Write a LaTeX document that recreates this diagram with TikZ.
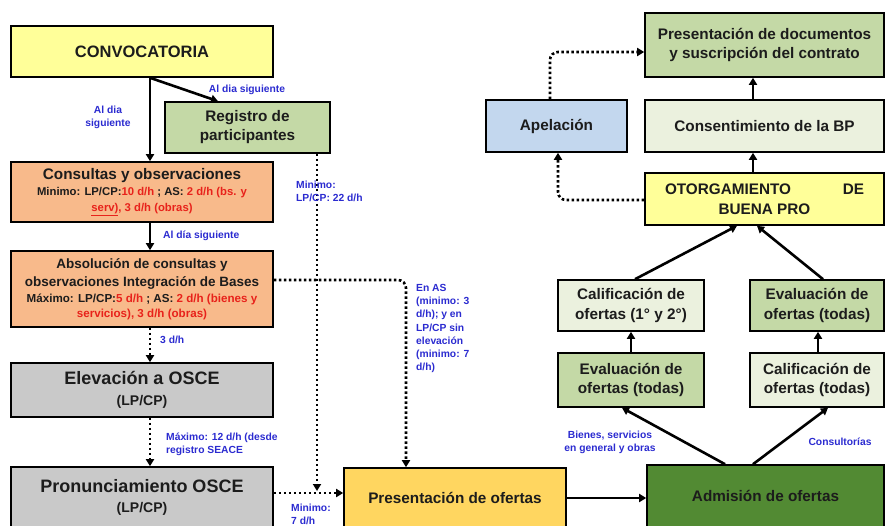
\documentclass[tikz,border=0pt]{standalone}
\usepackage{fontspec}
\setmainfont{Liberation Sans}
\usetikzlibrary{arrows.meta}
\definecolor{cyellow}{HTML}{FFFF99}
\definecolor{cgreen}{HTML}{C4D9A6}
\definecolor{clgreen}{HTML}{EBF1DE}
\definecolor{corange}{HTML}{F8BA8B}
\definecolor{cgray}{HTML}{C9C9C9}
\definecolor{cgold}{HTML}{FFD660}
\definecolor{cdgreen}{HTML}{528A33}
\definecolor{cblue}{HTML}{C3D7EE}
\definecolor{lblue}{HTML}{2B2BD0}
\definecolor{cred}{HTML}{E8221B}
\definecolor{txt}{HTML}{1C1C1C}
\begin{document}
\begin{tikzpicture}[x=1pt,y=-1pt,
  box/.style={draw=black, line width=1.6pt, inner sep=0pt, align=center, text=txt},
  arr/.style={line width=2.6pt, -{Triangle[length=7pt,width=8pt]}},
  dotarr/.style={line width=2.6pt, dash pattern=on 2.6pt off 2.4pt, -{Triangle[length=7pt,width=8pt]}},
  lbl/.style={text=lblue, font=\bfseries\fontsize{10.3}{13}\selectfont, inner sep=0pt},
  rbox/.style={box, font=\bfseries\fontsize{15.3}{19.5}\selectfont},
]
\useasboundingbox (0,0) rectangle (886,525);

% left column
\node[box, fill=cyellow, minimum width=262pt, minimum height=51pt, font=\bfseries\fontsize{16.5}{18}\selectfont] (conv) at (142,51.5) {CONVOCATORIA};
\node[box, fill=cgreen, minimum width=165pt, minimum height=51pt, font=\bfseries\fontsize{15.3}{19}\selectfont] (reg) at (247.5,127.5) {Registro de\\participantes};
\node[box, fill=corange, minimum width=262pt, minimum height=60pt, font=\bfseries\fontsize{11.3}{16}\selectfont] (cons) at (142,192)
  {{\fontsize{15.3}{17}\selectfont Consultas y observaciones}\\
   Minimo: LP/CP:\textcolor{cred}{10 d/h} ; AS: \textcolor{cred}{2 d/h (bs. y}\\
   \textcolor{cred}{\underline{serv)}, 3 d/h (obras)}};
\node[box, fill=corange, minimum width=262pt, minimum height=76pt, font=\bfseries\fontsize{11.6}{15.5}\selectfont] (abs) at (142,289)
  {{\fontsize{13.5}{18}\selectfont Absolución de consultas y}\\[3pt]
   {\fontsize{13.5}{18}\selectfont observaciones Integración de Bases}\\
   Máximo: LP/CP:\textcolor{cred}{5 d/h} ; AS: \textcolor{cred}{2 d/h (bienes y}\\
   \textcolor{cred}{servicios), 3 d/h (obras)}};
\node[box, fill=cgray, minimum width=262pt, minimum height=54pt, font=\bfseries\fontsize{14}{21}\selectfont] (elev) at (142,390)
  {{\fontsize{18}{20}\selectfont Elevación a OSCE}\\(LP/CP)};
\node[box, fill=cgray, minimum width=262pt, minimum height=61pt, font=\bfseries\fontsize{14}{20}\selectfont] (pron) at (142,497.5)
  {{\fontsize{18}{20}\selectfont Pronunciamiento OSCE}\\(LP/CP)};

% bottom middle
\node[box, fill=cgold, minimum width=222pt, minimum height=60pt, font=\bfseries\fontsize{15.3}{18}\selectfont] (pres) at (455,498) {Presentación de ofertas};
\node[box, fill=cdgreen, minimum width=237pt, minimum height=62pt, font=\bfseries\fontsize{15.3}{18}\selectfont] (adm) at (765.5,496) {Admisión de ofertas};

% right column
\node[rbox, fill=cgreen, minimum width=239pt, minimum height=64pt] (docs) at (764.5,45) {Presentación de documentos\\y suscripción del contrato};
\node[rbox, fill=clgreen, minimum width=239pt, minimum height=52pt] (consent) at (764.5,126) {Consentimiento de la BP};
\node[rbox, fill=cyellow, minimum width=239pt, minimum height=52pt] (otorg) at (764.5,199) {\makebox[199pt]{OTORGAMIENTO\hfill DE}\\BUENA PRO};
\node[rbox, fill=cblue, minimum width=141pt, minimum height=52pt] (apel) at (556.5,126) {Apelación};
\node[rbox, fill=clgreen, minimum width=146pt, minimum height=51pt] (calif12) at (631,305.5) {Calificación de\\ofertas (1° y 2°)};
\node[rbox, fill=cgreen, minimum width=146pt, minimum height=54pt] (evalL) at (631,380) {Evaluación de\\ofertas (todas)};
\node[rbox, fill=cgreen, minimum width=134pt, minimum height=51pt] (evalR) at (817,305.5) {Evaluación de\\ofertas (todas)};
\node[rbox, fill=clgreen, minimum width=134pt, minimum height=54pt] (califR) at (817,380) {Calificación de\\ofertas (todas)};

% helper coordinates
\coordinate (j1) at (317,491);
\coordinate (bend1) at (406,280);
\coordinate (bend2) at (558,200);
\coordinate (bend3) at (550,52);

% connectors left
\draw[arr] (conv.south -| 150,0) -- (cons.north -| 150,0);
\draw[arr] (conv.south -| 150,0) -- (reg.north -| 218,0);
\draw[arr] (cons.south -| 150,0) -- (abs.north -| 150,0);
\draw[dotarr] (abs.south -| 150,0) -- (elev.north -| 150,0);
\draw[dotarr] (elev.south -| 150,0) -- (pron.north -| 150,0);
\draw[dotarr] (pron.east |- 0,493) -- (pres.west |- 0,493);
\draw[dotarr] (reg.south -| j1) -- (j1);
\draw[dotarr, rounded corners=8pt] (abs.east |- bend1) -- (bend1) -- (pres.north -| bend1);

% connectors right
\draw[arr] (pres.east |- 0,498) -- (adm.west |- 0,498);
\draw[arr] (adm.north -| 725,0) -- (evalL.south -| 622,0);
\draw[arr] (adm.north -| 753,0) -- (califR.south -| 828,0);
\draw[arr] (evalL.north -| 631,0) -- (calif12.south -| 631,0);
\draw[arr] (califR.north -| 818,0) -- (evalR.south -| 818,0);
\draw[arr] (calif12.north -| 635,0) -- (otorg.south -| 737,0);
\draw[arr] (evalR.north -| 823,0) -- (otorg.south -| 757,0);
\draw[arr] (otorg.north -| 753,0) -- (consent.south -| 753,0);
\draw[arr] (consent.north -| 753,0) -- (docs.south -| 753,0);
\draw[dotarr, rounded corners=8pt] (otorg.west |- bend2) -- (bend2) -- (apel.south -| bend2);
\draw[dotarr, rounded corners=8pt] (apel.north -| bend3) -- (bend3) -- (docs.west |- bend3);

% labels
\node[lbl] (l1) at (247,90) {Al dia siguiente};
\node[lbl, align=center] (l2) at (108,117) {Al dia\\siguiente};
\node[lbl, anchor=west] (l3) at (163,236) {Al día siguiente};
\node[lbl, anchor=west] (l4) at (160,340) {3 d/h};
\node[lbl, anchor=west, align=left] (l5) at (166,444) {Máximo: 12 d/h (desde\\registro SEACE};
\node[lbl, anchor=west, align=left] (l6) at (291,514) {Minimo:\\7 d/h};
\node[lbl, anchor=west, align=left] (l7) at (296,191) {Minimo:\\LP/CP: 22 d/h};
\node[lbl, anchor=west, align=left, font=\bfseries\fontsize{10.3}{13.2}\selectfont] (l8) at (416,328.5) {En AS\\(minimo: 3\\d/h); y en\\LP/CP sin\\elevación\\(minimo: 7\\d/h)};
\node[lbl, align=center] (l9) at (610,442) {Bienes, servicios\\en general y obras};
\node[lbl] (l10) at (840,442) {Consultorías};
\end{tikzpicture}
\end{document}
